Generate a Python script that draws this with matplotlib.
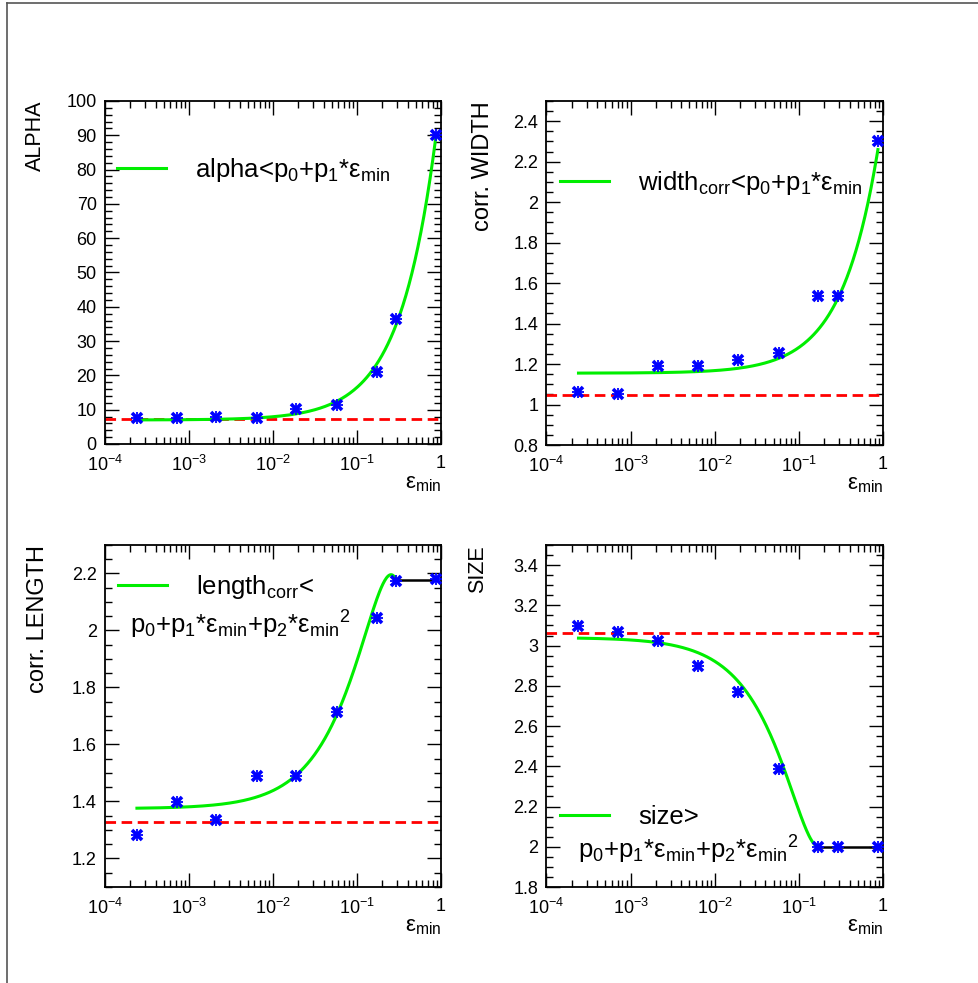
import matplotlib
matplotlib.use('Agg')
import matplotlib.pyplot as plt
from matplotlib.lines import Line2D
from matplotlib.ticker import (FixedLocator, FixedFormatter, LogLocator,
                               MultipleLocator, NullFormatter, FuncFormatter)
import numpy as np

plt.rcParams['font.family'] = ['Liberation Sans', 'DejaVu Sans']
plt.rcParams['mathtext.fontset'] = 'custom'
plt.rcParams['mathtext.rm'] = 'Liberation Sans'
plt.rcParams['mathtext.it'] = 'Liberation Sans:italic'
plt.rcParams['mathtext.bf'] = 'Liberation Sans:bold'

# eps_min of the measured points (same in all four panels)
eps_min = [2.4e-4, 7.1e-4, 2.1e-3, 6.4e-3, 1.9e-2, 5.8e-2, 0.171, 0.291, 0.87]

alpha_vals = [7.6, 7.6, 7.8, 7.5, 10.2, 11.4, 20.9, 36.4, 90.0]
width_vals = [1.064, 1.052, 1.188, 1.188, 1.221, 1.257, 1.538, 1.534, 2.30]
length_vals = [1.281, 1.397, 1.336, 1.488, 1.488, 1.714, 2.044, 2.173, 2.179]
size_vals = [3.095, 3.067, 3.022, 2.897, 2.767, 2.387, 2.0, 2.0, 2.0]

# dashed reference levels
alpha_ref = 7.3
width_ref = 1.048
length_ref = 1.327
size_ref = 3.063

# fit parameters p0, p1 (, p2)
alpha_fit = [7.0, 95.0]
width_fit = [1.155, 1.27]
length_fit = [1.375, 6.46, -12.71]
size_fit = [3.04, -12.16, 35.57]

# index of the last point covered by the fit (constant after it)
alpha_cut = 8
width_cut = 8
length_cut = 7
size_cut = 6

decades = [1e-4, 1e-3, 1e-2, 1e-1, 1]
decade_labels = [r'$10^{-4}$', r'$10^{-3}$', r'$10^{-2}$', r'$10^{-1}$', '1']

GREEN = '#00ee00'
W, H = 979, 983
LEG_FS = 18.5


def fit_value(p, e):
    return sum(c * e ** i for i, c in enumerate(p))


def make_axes(fig, left, top, right, bottom):
    return fig.add_axes([left / W, 1 - bottom / H, (right - left) / W, (bottom - top) / H])


def setup(ax, ylim, ymajor, yminor, ylabel, ylab_x, ylab_fs):
    ax.set_xscale('log')
    ax.set_xlim(1e-4, 1)
    ax.set_ylim(*ylim)
    ax.xaxis.set_major_locator(FixedLocator(decades))
    ax.xaxis.set_major_formatter(FixedFormatter(decade_labels))
    ax.xaxis.set_minor_locator(LogLocator(base=10, subs=range(2, 10), numticks=20))
    ax.xaxis.set_minor_formatter(NullFormatter())
    ax.yaxis.set_major_locator(MultipleLocator(ymajor))
    ax.yaxis.set_minor_locator(MultipleLocator(yminor))
    ax.yaxis.set_major_formatter(FuncFormatter(lambda v, pos: f'{v:g}'))
    ax.tick_params(which='both', direction='in', top=True, right=True,
                   labelsize=13, width=1.0, color='black')
    ax.tick_params(which='major', length=10)
    ax.tick_params(which='minor', length=5)
    ax.tick_params(axis='x', pad=8)
    ax.tick_params(axis='y', pad=6)
    for s in ax.spines.values():
        s.set_linewidth(1.3)
    ax.set_ylabel(ylabel, loc='top', fontsize=ylab_fs)
    ax.yaxis.set_label_coords(ylab_x, 1.0)
    ax.set_xlabel(r'ε$_{\rm min}$', loc='right', fontsize=16)
    ax.xaxis.set_label_coords(1.0, -0.085)


def draw(ax, vals, ref, fit, cut):
    ax.axhline(ref, color='red', ls=(0, (3.8, 2)), lw=2.0, zorder=2)
    e = np.logspace(np.log10(eps_min[0]), np.log10(eps_min[cut]), 300)
    ax.plot(e, fit_value(fit, e), color=GREEN, lw=2.2, zorder=3)
    if cut < len(eps_min) - 1:
        yc = fit_value(fit, eps_min[cut])
        ax.plot([eps_min[cut], eps_min[-1]], [yc, yc], color='black', lw=1.8, zorder=3)
    ax.plot(eps_min, vals, ls='none', marker='x', ms=7.5, mew=2.6,
            color='blue', zorder=4)
    ax.plot(eps_min, vals, ls='none', marker='+', ms=9, mew=1.3,
            color='blue', zorder=4)


def legend(ax, text, x, y):
    h = Line2D([], [], color=GREEN, lw=2.2)
    ax.legend(handles=[h], labels=[text], loc='center left', bbox_to_anchor=(x, y),
              frameon=False, borderpad=0, borderaxespad=0, fontsize=LEG_FS,
              handlelength=1.9, handletextpad=1.15)


fig = plt.figure(figsize=(W / 100, H / 100), dpi=100)

ax1 = make_axes(fig, 105, 101, 441, 444)
setup(ax1, (0, 100), 10, 2, 'ALPHA', -0.175, 15.5)
draw(ax1, alpha_vals, alpha_ref, alpha_fit, alpha_cut)
legend(ax1, 'alpha<p$_0$+p$_1$*ε$_{\\rm min}$', 0.036, 0.80)

ax2 = make_axes(fig, 546.5, 101, 883, 445)
setup(ax2, (0.8, 2.5), 0.2, 0.05, 'corr. WIDTH', -0.157, 17)
draw(ax2, width_vals, width_ref, width_fit, width_cut)
legend(ax2, 'width$_{\\rm corr}$<p$_0$+p$_1$*ε$_{\\rm min}$', 0.04, 0.762)

ax3 = make_axes(fig, 105, 545, 441, 887)
setup(ax3, (1.1, 2.3), 0.2, 0.05, 'corr. LENGTH', -0.168, 17)
draw(ax3, length_vals, length_ref, length_fit, length_cut)
legend(ax3, 'length$_{\\rm corr}$<', 0.039, 0.877)
ax3.text(0.074, 0.766, 'p$_0$+p$_1$*ε$_{\\rm min}$+p$_2$*ε$_{\\rm min}$$^2$',
         transform=ax3.transAxes, ha='left', va='center', fontsize=LEG_FS)

ax4 = make_axes(fig, 546.5, 545, 883, 887)
setup(ax4, (1.8, 3.5), 0.2, 0.05, 'SIZE', -0.175, 15.5)
draw(ax4, size_vals, size_ref, size_fit, size_cut)
legend(ax4, 'size>', 0.04, 0.205)
ax4.text(0.094, 0.108, 'p$_0$+p$_1$*ε$_{\\rm min}$+p$_2$*ε$_{\\rm min}$$^2$',
         transform=ax4.transAxes, ha='left', va='center', fontsize=LEG_FS)

# canvas frame (top and left edges visible)
fig.add_artist(Line2D([7 / W, 1], [1 - 3 / H, 1 - 3 / H], transform=fig.transFigure,
                      color='#555555', lw=1.2))
fig.add_artist(Line2D([7 / W, 7 / W], [0, 1 - 3 / H], transform=fig.transFigure,
                      color='#555555', lw=1.2))

fig.savefig('out.png', dpi=100)
